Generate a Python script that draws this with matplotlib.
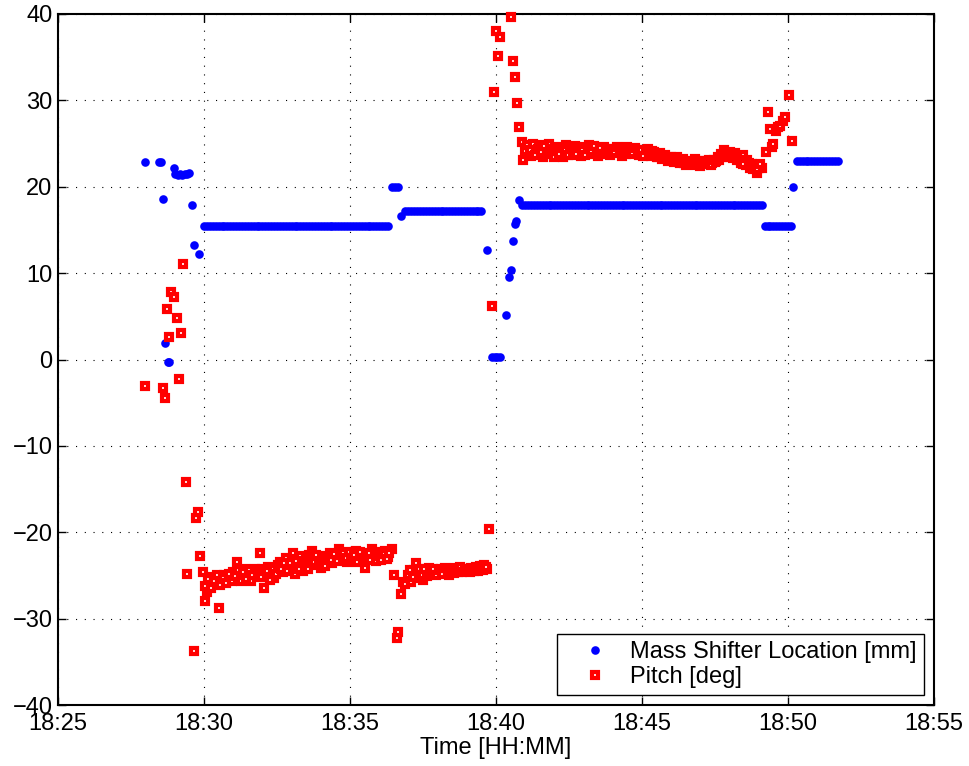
import matplotlib
matplotlib.use("Agg")
import matplotlib.pyplot as plt
from matplotlib.ticker import FixedLocator, FuncFormatter

# Time axis: minutes past 18:00
mass_time = [
    27.97, 28.45, 28.52, 28.58, 28.66, 28.76, 28.80, 28.89, 28.97, 29.02,
    29.10, 29.18, 29.26, 29.34, 29.42, 29.50, 29.59, 29.66, 29.82,
    30.0, 30.1, 30.2, 30.3, 30.4, 30.5, 30.6, 30.7, 30.8, 30.9,
    31.0, 31.1, 31.2, 31.3, 31.4, 31.5, 31.6, 31.7, 31.8, 31.9,
    32.0, 32.1, 32.2, 32.3, 32.4, 32.5, 32.6, 32.7, 32.8, 32.9,
    33.0, 33.1, 33.2, 33.3, 33.4, 33.5, 33.6, 33.7, 33.8, 33.9,
    34.0, 34.1, 34.2, 34.3, 34.4, 34.5, 34.6, 34.7, 34.8, 34.9,
    35.0, 35.1, 35.2, 35.3, 35.4, 35.5, 35.6, 35.7, 35.8, 35.9,
    36.0, 36.1, 36.2, 36.3,
    36.45, 36.55, 36.65, 36.75,
    36.9, 37.0, 37.1, 37.2, 37.3, 37.4, 37.5, 37.6, 37.7, 37.8, 37.9,
    38.0, 38.1, 38.2, 38.3, 38.4, 38.5, 38.6, 38.7, 38.8, 38.9,
    39.0, 39.1, 39.2, 39.3, 39.4, 39.5,
    39.69, 39.85, 39.95, 40.05, 40.15,
    40.34, 40.45, 40.51, 40.59, 40.65, 40.70, 40.80,
    40.9, 41.0, 41.1, 41.2, 41.3, 41.4, 41.5, 41.6, 41.7, 41.8, 41.9,
    42.0, 42.1, 42.2, 42.3, 42.4, 42.5, 42.6, 42.7, 42.8, 42.9,
    43.0, 43.1, 43.2, 43.3, 43.4, 43.5, 43.6, 43.7, 43.8, 43.9,
    44.0, 44.1, 44.2, 44.3, 44.4, 44.5, 44.6, 44.7, 44.8, 44.9,
    45.0, 45.1, 45.2, 45.3, 45.4, 45.5, 45.6, 45.7, 45.8, 45.9,
    46.0, 46.1, 46.2, 46.3, 46.4, 46.5, 46.6, 46.7, 46.8, 46.9,
    47.0, 47.1, 47.2, 47.3, 47.4, 47.5, 47.6, 47.7, 47.8, 47.9,
    48.0, 48.1, 48.2, 48.3, 48.4, 48.5, 48.6, 48.7, 48.8, 48.9,
    49.0, 49.1,
    49.2, 49.3, 49.4, 49.5, 49.6, 49.7, 49.8, 49.9, 50.0, 50.1,
    50.17,
    50.3, 50.4, 50.5, 50.6, 50.7, 50.8, 50.9, 51.0, 51.1, 51.2,
    51.3, 51.4, 51.5, 51.6, 51.7,
]

mass_pos = [
    22.9, 22.9, 22.9, 18.6, 1.9, -0.3, -0.3, 7.6, 22.2, 21.5,
    21.4, 21.5, 21.4, 21.5, 21.5, 21.6, 17.9, 13.2, 12.2,
    15.5, 15.5, 15.5, 15.5, 15.5, 15.5, 15.5, 15.5, 15.5, 15.5,
    15.5, 15.5, 15.5, 15.5, 15.5, 15.5, 15.5, 15.5, 15.5, 15.5,
    15.5, 15.5, 15.5, 15.5, 15.5, 15.5, 15.5, 15.5, 15.5, 15.5,
    15.5, 15.5, 15.5, 15.5, 15.5, 15.5, 15.5, 15.5, 15.5, 15.5,
    15.5, 15.5, 15.5, 15.5, 15.5, 15.5, 15.5, 15.5, 15.5, 15.5,
    15.5, 15.5, 15.5, 15.5, 15.5, 15.5, 15.5, 15.5, 15.5, 15.5,
    15.5, 15.5, 15.5, 15.5,
    20.0, 20.0, 20.0, 16.6,
    17.2, 17.2, 17.2, 17.2, 17.2, 17.2, 17.2, 17.2, 17.2, 17.2, 17.2,
    17.2, 17.2, 17.2, 17.2, 17.2, 17.2, 17.2, 17.2, 17.2, 17.2,
    17.2, 17.2, 17.2, 17.2, 17.2, 17.2,
    12.7, 0.3, 0.3, 0.3, 0.3,
    5.1, 9.6, 10.4, 13.7, 15.7, 16.0, 18.5,
    17.9, 17.9, 17.9, 17.9, 17.9, 17.9, 17.9, 17.9, 17.9, 17.9, 17.9,
    17.9, 17.9, 17.9, 17.9, 17.9, 17.9, 17.9, 17.9, 17.9, 17.9,
    17.9, 17.9, 17.9, 17.9, 17.9, 17.9, 17.9, 17.9, 17.9, 17.9,
    17.9, 17.9, 17.9, 17.9, 17.9, 17.9, 17.9, 17.9, 17.9, 17.9,
    17.9, 17.9, 17.9, 17.9, 17.9, 17.9, 17.9, 17.9, 17.9, 17.9,
    17.9, 17.9, 17.9, 17.9, 17.9, 17.9, 17.9, 17.9, 17.9, 17.9,
    17.9, 17.9, 17.9, 17.9, 17.9, 17.9, 17.9, 17.9, 17.9, 17.9,
    17.9, 17.9, 17.9, 17.9, 17.9, 17.9, 17.9, 17.9, 17.9, 17.9,
    17.9, 17.9,
    15.5, 15.5, 15.5, 15.5, 15.5, 15.5, 15.5, 15.5, 15.5, 15.5,
    20.0,
    23.0, 23.0, 23.0, 23.0, 23.0, 23.0, 23.0, 23.0, 23.0, 23.0,
    23.0, 23.0, 23.0, 23.0, 23.0,
]

pitch_time = [
    27.97, 28.58, 28.66, 28.74, 28.81, 28.87, 28.98, 29.06, 29.13, 29.20,
    29.29, 29.38, 29.43, 29.66, 29.74, 29.80, 29.86, 29.95,
    30.03, 30.11, 30.20, 30.30, 30.40, 30.52, 30.60, 30.70, 30.80, 30.90,
    31.00, 31.12, 31.20, 31.30, 31.40, 31.50, 31.60, 31.70, 31.80, 31.92,
    32.00, 32.05, 32.10, 32.20, 32.30, 32.40, 32.50, 32.60, 32.70, 32.80, 32.90,
    33.00, 33.06, 33.10, 33.20, 33.30, 33.40, 33.50, 33.60, 33.71, 33.80, 33.90,
    34.00, 34.10, 34.20, 34.30, 34.40, 34.50, 34.63, 34.70, 34.80, 34.90,
    35.00, 35.10, 35.20, 35.30, 35.40, 35.50, 35.60, 35.74, 35.80, 35.90,
    36.00, 36.10, 36.20, 36.30, 36.43, 36.52, 36.60, 36.65, 36.75, 36.80, 36.90,
    37.00, 37.10, 37.20, 37.25, 37.30, 37.40, 37.50, 37.60, 37.70, 37.80, 37.90,
    38.00, 38.10, 38.20, 38.30, 38.40, 38.50, 38.60, 38.70, 38.80, 38.90,
    39.00, 39.10, 39.20, 39.30, 39.40, 39.50, 39.60, 39.70, 39.76, 39.86, 39.93,
    40.00, 40.08, 40.14, 40.50, 40.57, 40.66, 40.72, 40.80, 40.88, 40.94,
    41.00, 41.07, 41.2, 41.3, 41.4, 41.5, 41.6, 41.7, 41.8, 41.9,
    42.0, 42.1, 42.2, 42.3, 42.4, 42.5, 42.6, 42.7, 42.8, 42.9,
    43.0, 43.1, 43.2, 43.3, 43.4, 43.5, 43.6, 43.7, 43.8, 43.9,
    44.0, 44.1, 44.2, 44.3, 44.4, 44.5, 44.6, 44.7, 44.8, 44.9,
    45.0, 45.1, 45.2, 45.3, 45.4, 45.5, 45.6, 45.7, 45.8, 45.9,
    46.0, 46.1, 46.2, 46.3, 46.4, 46.5, 46.6, 46.7, 46.8, 46.9,
    47.0, 47.1, 47.2, 47.3, 47.4, 47.5, 47.6, 47.7, 47.8, 47.9,
    48.0, 48.1, 48.2, 48.3, 48.4, 48.47, 48.55, 48.6, 48.7, 48.8, 48.9,
    48.93, 49.0, 49.1,
    49.25, 49.33, 49.38, 49.44, 49.50, 49.59, 49.66, 49.73, 49.82, 49.90,
    50.03, 50.12,
    # interleaved samples within the steady stretches
    30.05, 30.15, 30.25, 30.35, 30.45, 30.55, 30.65, 30.75, 30.85, 30.95,
    31.05, 31.15, 31.25, 31.35, 31.45, 31.55, 31.65, 31.75, 31.85, 31.96,
    32.15, 32.25, 32.35, 32.45, 32.55, 32.65, 32.75, 32.85, 32.95,
    33.15, 33.25, 33.35, 33.45, 33.55, 33.65, 33.75, 33.85, 33.95,
    34.05, 34.15, 34.25, 34.35, 34.45, 34.55, 34.68, 34.75, 34.85, 34.95,
    35.05, 35.15, 35.25, 35.35, 35.45, 35.55, 35.65, 35.70, 35.85, 35.95,
    36.05, 36.15, 36.25, 36.35,
    37.05, 37.15, 37.35, 37.45, 37.55, 37.65, 37.75, 37.85, 37.95,
    38.05, 38.15, 38.25, 38.35, 38.45, 38.55, 38.65, 38.75, 38.85, 38.95,
    39.05, 39.15, 39.25, 39.35, 39.45, 39.55, 39.65,
    41.15, 41.25, 41.35, 41.45, 41.55, 41.65, 41.75, 41.85, 41.95,
    42.05, 42.15, 42.25, 42.35, 42.45, 42.55, 42.65, 42.75, 42.85, 42.95,
    43.05, 43.15, 43.25, 43.35, 43.45, 43.55, 43.65, 43.75, 43.85, 43.95,
    44.05, 44.15, 44.25, 44.35, 44.45, 44.55, 44.65, 44.75, 44.85, 44.95,
    45.05, 45.15, 45.25, 45.35, 45.45, 45.55, 45.65, 45.75, 45.85, 45.95,
    46.05, 46.15, 46.25, 46.35, 46.45, 46.55, 46.65, 46.75, 46.85, 46.95,
    47.05, 47.15, 47.25, 47.35, 47.45, 47.55, 47.65, 47.75, 47.85, 47.95,
    48.05, 48.15, 48.25, 48.35, 48.45, 48.65, 48.75, 48.85, 48.95, 49.05,
]

pitch_deg = [
    -3.1, -3.3, -4.4, 5.9, 2.6, 7.8, 7.2, 4.8, -2.3, 3.1,
    11.1, -14.2, -24.8, -33.8, -18.4, -17.6, -22.8, -24.6,
    -28.0, -26.9, -25.8, -25.2, -26.0, -28.8, -25.5, -24.9, -25.6, -25.0,
    -24.6, -23.4, -24.8, -25.3, -24.2, -24.9, -25.6, -24.5, -25.0, -22.4,
    -24.3, -26.4, -25.2, -24.0, -24.7, -25.3, -24.1, -23.5, -24.6, -23.0, -24.2,
    -23.2, -22.4, -24.8, -23.6, -22.8, -24.5, -23.3, -22.6, -22.2, -23.8, -23.0,
    -24.1, -22.8, -23.4, -22.4, -23.6, -22.9, -21.9, -23.2, -22.6, -23.4,
    -22.7, -23.3, -22.2, -23.0, -22.5, -24.1, -23.1, -21.9, -22.8, -23.3,
    -22.4, -23.0, -22.2, -22.9, -21.9, -25.0, -32.3, -31.6, -27.1, -25.8, -26.0,
    -25.0, -25.8, -24.4, -23.6, -25.3, -24.6, -25.5, -24.8, -24.1, -24.8, -24.4,
    -24.7, -24.2, -24.6, -24.3, -24.9, -24.4, -24.1, -24.6, -24.3, -24.5,
    -24.2, -24.6, -24.3, -24.0, -24.5, -24.2, -23.8, -24.3, -19.6, 6.2, 31.0,
    38.0, 35.1, 37.3, 39.7, 34.6, 32.7, 29.7, 26.9, 25.2, 23.1,
    24.1, 24.8, 23.6, 24.5, 23.9, 24.8, 23.4, 24.3, 24.9, 23.8,
    23.5, 24.6, 24.1, 23.5, 24.8, 24.2, 23.7, 24.7, 24.3, 23.6,
    24.5, 24.0, 24.8, 23.8, 24.4, 23.6, 24.1, 24.6, 24.4, 23.7,
    24.2, 23.9, 24.5, 23.6, 24.1, 24.6, 24.2, 23.8, 24.3, 23.7,
    24.1, 23.9, 24.4, 23.6, 24.0, 23.4, 23.9, 23.2, 23.7, 23.0,
    23.5, 22.9, 23.4, 22.7, 23.2, 22.5, 23.0, 22.6, 23.2, 22.8,
    22.4, 23.0, 22.6, 23.1, 22.7, 22.9, 23.4, 23.8, 24.2, 23.5,
    24.0, 23.3, 23.9, 23.4, 22.8, 23.7, 22.5, 23.1, 22.2, 22.0, 22.5,
    21.6, 22.2, 22.2,
    24.0, 28.6, 26.7, 24.6, 25.0, 26.4, 26.9, 27.0, 27.6, 28.1,
    30.6, 25.3,
    # interleaved samples within the steady stretches
    -26.2, -25.4, -26.4, -25.7, -25.0, -26.1, -25.3, -25.9, -24.8, -25.7,
    -25.1, -24.4, -25.6, -24.6, -25.4, -24.4, -25.0, -24.2, -24.7, -25.2,
    -24.5, -25.5, -24.2, -24.8, -23.8, -24.2, -23.6, -24.5, -23.6,
    -23.3, -24.2, -23.4, -23.8, -24.3, -23.2, -23.5, -22.6, -23.6,
    -23.4, -23.9, -22.9, -23.2, -22.5, -23.3, -22.6, -22.4, -23.0, -22.3,
    -23.0, -22.6, -23.5, -22.3, -23.2, -22.7, -22.4, -23.2, -22.3, -22.8,
    -23.2, -22.5, -23.1, -22.4,
    -24.4, -25.2, -24.2, -25.0, -24.3, -25.1, -24.6, -24.2, -24.9,
    -24.4, -24.8, -24.1, -24.6, -24.2, -24.7, -24.4, -24.0, -24.6, -24.2,
    -24.4, -24.1, -24.5, -24.2, -23.9, -24.4, -24.0,
    24.3, 24.9, 23.7, 24.4, 24.0, 24.7, 23.9, 24.4, 24.1,
    24.3, 23.8, 24.5, 24.2, 23.7, 24.5, 24.0, 23.8, 24.6, 24.2,
    23.7, 24.4, 24.1, 24.7, 24.0, 24.5, 23.8, 24.2, 23.9, 24.4,
    24.0, 24.6, 24.1, 24.3, 23.8, 24.2, 23.9, 24.5, 24.0, 24.3,
    23.6, 24.2, 23.8, 24.1, 23.7, 23.5, 23.6, 23.3, 23.4, 23.2,
    23.1, 23.3, 22.9, 23.0, 22.8, 22.7, 22.8, 22.9, 22.5, 23.0,
    22.7, 22.8, 22.9, 22.5, 23.1, 23.0, 23.1, 23.5, 23.7, 23.9,
    23.6, 23.6, 23.1, 23.1, 22.6, 22.8, 22.6, 22.3, 22.0, 22.6,
]

x_ticks = [25, 30, 35, 40, 45, 50, 55]
y_ticks = [-40, -30, -20, -10, 0, 10, 20, 30, 40]

plt.rcParams['font.family'] = ['Liberation Sans', 'DejaVu Sans']
plt.rcParams['lines.scale_dashes'] = False

fig = plt.figure(figsize=(9.69, 7.66), dpi=100)
ax = fig.add_axes([58 / 969, 61 / 766, 876 / 969, 691 / 766])

ax.plot(mass_time, mass_pos, linestyle='none', marker='o', markersize=6.2,
        markerfacecolor='#0000ff', markeredgecolor='none',
        label='Mass Shifter Location [mm]', clip_on=False, zorder=3)
ax.plot(pitch_time, pitch_deg, linestyle='none', marker='s', markersize=4.6,
        markerfacecolor='white', markeredgecolor='#ff0000', markeredgewidth=3.0,
        label='Pitch [deg]', clip_on=False, zorder=4)

ax.set_xlim(x_ticks[0], x_ticks[-1])
ax.set_ylim(y_ticks[0], y_ticks[-1])
ax.xaxis.set_major_locator(FixedLocator(x_ticks))
ax.yaxis.set_major_locator(FixedLocator(y_ticks))
ax.xaxis.set_major_formatter(FuncFormatter(lambda v, p: f"18:{int(round(v)):02d}"))

ax.grid(True, color='black', linestyle=(0, (0.8, 5.5)), linewidth=0.8, zorder=1)
ax.set_axisbelow(True)
ax.tick_params(axis='both', direction='in', top=True, right=True,
               length=6, width=1.0, labelsize=17, color='black')
ax.tick_params(axis='x', pad=6)
ax.tick_params(axis='y', pad=4)
for s in ax.spines.values():
    s.set_linewidth(1.5)

ax.set_xlabel('Time [HH:MM]', fontsize=17, labelpad=1)

leg = ax.legend(loc='lower right', fontsize=17, fancybox=False, framealpha=1,
                edgecolor='black', borderpad=0.3, labelspacing=0.1,
                handlelength=2.6, handletextpad=0.2, borderaxespad=0.43,
                numpoints=1)
leg.get_frame().set_linewidth(1.0)

fig.savefig('out.png', dpi=100)
